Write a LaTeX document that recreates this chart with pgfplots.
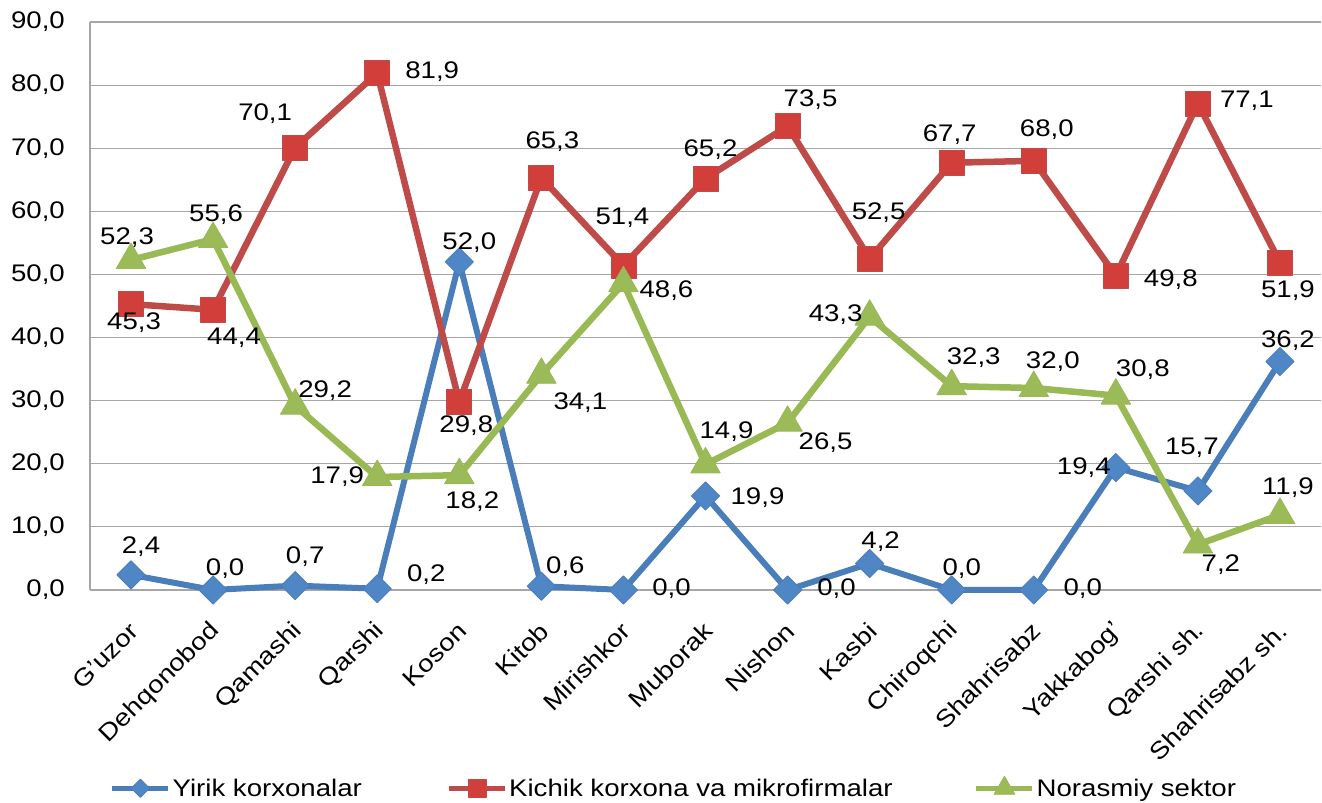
\documentclass[border=0pt]{standalone}
\usepackage{fontspec}
\setmainfont{Liberation Sans}[FakeStretch=1.15]
\usepackage{pgfplots}
\usepackage{pgfplotstable}
\pgfplotsset{compat=1.18}
\pgfplotsset{/pgf/number format/assume math mode=true}
\definecolor{bl}{HTML}{4A7EBB}
\definecolor{blm}{HTML}{4F86C6}
\definecolor{rd}{HTML}{BE4B48}
\definecolor{rdm}{HTML}{D23F3B}
\definecolor{gr}{HTML}{98B954}
\definecolor{grm}{HTML}{9BBB59}
\definecolor{gridc}{HTML}{A6A6A6}

\pgfplotsset{
  bleg/.style={legend image code/.code={\draw[bl, line width=4.5pt, mark=square*, mark size=6.5pt, mark options={rotate=45, fill=blm, draw=bl, line width=0.8pt}, mark repeat=2, mark phase=2] plot coordinates {(0pt,0pt) (28pt,0pt) (56pt,0pt)};}},
  rleg/.style={legend image code/.code={\draw[rd, line width=4.5pt, mark=square*, mark size=9pt, mark options={fill=rdm, draw=rd, line width=0.8pt}, mark repeat=2, mark phase=2] plot coordinates {(0pt,0pt) (28pt,0pt) (56pt,0pt)};}},
  gleg/.style={legend image code/.code={\draw[gr, line width=4.5pt, mark=triangle*, mark size=12pt, mark options={fill=grm, draw=gr, line width=0.8pt}, mark repeat=2, mark phase=2] plot coordinates {(0pt,0pt) (28pt,0pt) (56pt,0pt)};}},
}

\pgfplotstableread{
x y dx dy
0 2.4 10 28
1 0.0 12 21
2 0.7 10 29
3 0.2 49 14
4 52.0 10 19
5 0.6 24 20
6 0.0 48 1
7 14.9 21 64
8 0.0 49 1
9 4.2 11 22
10 0.0 10 21
11 0.0 49 1
12 19.4 -32 0
13 15.7 -6 43
14 36.2 8 21
}\blueT

\pgfplotstableread{
x y dx dy
0 45.3 3 -19
1 44.4 21 -28
2 70.1 -30 34
3 81.9 55 1
4 29.8 7 -24
5 65.3 11 36
6 51.4 -1 48
7 65.2 5 29
8 73.5 23 26
9 52.5 9 46
10 67.7 -2 28
11 68.0 13 31
12 49.8 55 -4
13 77.1 49 3
14 51.9 8 -28
}\redT

\pgfplotstableread{
x y dx dy
0 52.3 -4 22
1 55.6 3 24
2 29.2 30 15
3 17.9 -40 0
4 18.2 13 -27
5 34.1 39 -28
6 48.6 43 -7
7 19.9 52 -33
8 26.5 38 -20
9 43.3 -34 2
10 32.3 22 28
11 32.0 19 26
12 30.8 27 26
13 7.2 23 -20
14 11.9 8 27
}\greenT

\begin{document}
\begin{tikzpicture}[font=\fontsize{24}{28}\selectfont]
\begin{axis}[name=ax, scale only axis, width=1231pt, height=568pt,
  xmin=-0.5, xmax=14.5, ymin=0, ymax=90,
  xtick={0,...,14},
  xticklabels={G'uzor,Dehqonobod,Qamashi,Qarshi,Koson,Kitob,Mirishkor,Muborak,Nishon,Kasbi,Chiroqchi,Shahrisabz,Yakkabog',Qarshi sh.,Shahrisabz sh.},
  ytick={0,10,...,90},
  ymajorgrids, major grid style={draw=gridc, line width=1.2pt},
  axis x line=bottom, axis y line=left,
  axis line style={-, draw=gridc, line width=1.2pt},
  major tick length=0pt,
  y tick label style={/pgf/number format/.cd, fixed, fixed zerofill, precision=1, use comma, /tikz/.cd, inner sep=0pt, xshift=-25pt},
  x tick label style={inner sep=0pt, xshift=3pt, yshift=-37pt, rotate=45, anchor=east},
  clip=false,
  point meta=y,
  nodes near coords={\pgfmathprintnumber[fixed,fixed zerofill,precision=1,use comma]{\pgfplotspointmeta}},
  visualization depends on={\thisrow{dx} \as \dx},
  visualization depends on={\thisrow{dy} \as \dy},
  every node near coord/.style={anchor=center, xshift=\dx*1pt, yshift=\dy*1pt, inner sep=0pt, text=black},
  legend columns=3,
  legend style={at={(0.01625,-0.3468)}, anchor=west, draw=none, fill=none, inner sep=0pt,
    nodes={inner sep=0pt}, /tikz/every odd column/.append style={column sep=2pt}},
]
\addplot[bl, line width=6pt, line join=round, mark=square*, mark size=10pt,
  mark options={rotate=45, fill=blm, draw=bl, line width=0.8pt}, bleg]
  table[x=x,y=y] \blueT;
\addlegendentry{\makebox[274pt][l]{Yirik korxonalar}}
\addplot[rd, line width=6.5pt, line join=round, mark=square*, mark size=12.5pt,
  mark options={fill=rdm, draw=rd, line width=0.8pt}, rleg]
  table[x=x,y=y] \redT;
\addlegendentry{\makebox[465pt][l]{Kichik korxona va mikrofirmalar}}
\addplot[gr, line width=6.5pt, line join=round, mark=triangle*, mark size=17pt,
  mark options={fill=grm, draw=gr, line width=0.8pt}, gleg]
  table[x=x,y=y] \greenT;
\addlegendentry{Norasmiy sektor}
\end{axis}
\pgfresetboundingbox
\path ([shift={(-90pt,-213pt)}]ax.south west) rectangle ([shift={(1pt,22pt)}]ax.north east);
\end{tikzpicture}
\end{document}
